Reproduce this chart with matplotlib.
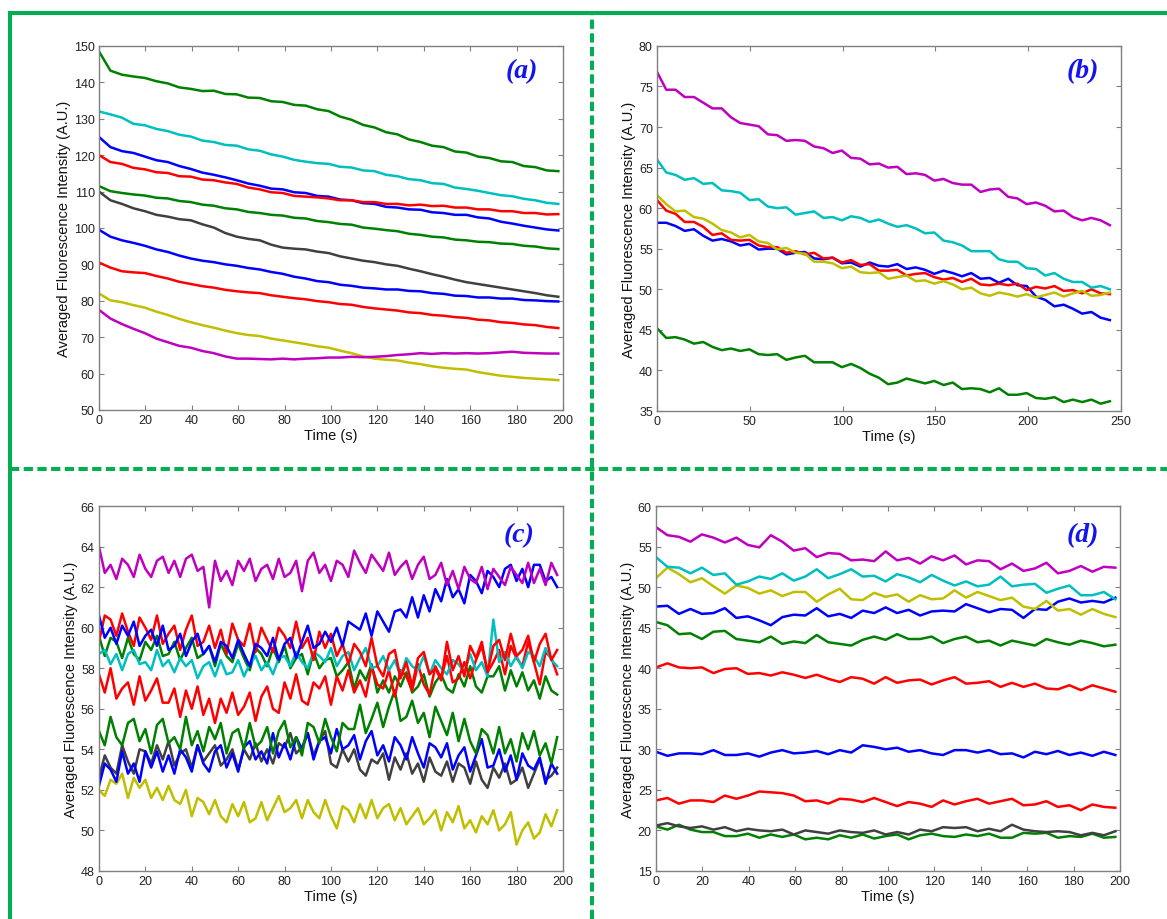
import numpy as np
import matplotlib.pyplot as plt
from matplotlib.lines import Line2D

plt.rcParams["font.family"] = ["Liberation Sans", "DejaVu Sans"]

# =========================
# Colours (MATLAB style)
# =========================
BLUE = "#0000FF"
GREEN = "#008000"
RED = "#FF0000"
CYAN = "#00BFBF"
MAGENTA = "#BF00BF"
YELLOW = "#BFBF00"
GRAY = "#404040"
FRAME = "#00B050"

# =========================
# Panel (a) - time 0..198 s, one value every ~5 s
# =========================
t_a = np.linspace(0, 198, 41)

a_green_top = [148.5, 143.2, 142.1, 141.6, 141.2, 140.3, 139.7, 138.6, 138.2, 137.6, 137.7,
               136.8, 136.7, 135.8, 135.7, 134.8, 134.6, 133.8, 133.6, 132.6, 132.1, 130.6,
               129.7, 128.3, 127.6, 126.3, 125.7, 124.3, 123.6, 122.6, 122.2, 121.0, 120.7,
               119.6, 119.2, 118.3, 118.1, 117.0, 116.7, 115.8, 115.6]
a_cyan = [132.0, 131.2, 130.3, 128.6, 128.2, 127.2, 126.6, 125.6, 125.1, 124.0, 123.6,
          122.8, 122.6, 121.6, 121.2, 120.2, 119.6, 118.7, 118.2, 117.8, 117.6, 116.8,
          116.6, 115.8, 115.6, 114.6, 114.2, 113.4, 113.1, 112.3, 112.1, 111.1, 110.7,
          110.2, 109.6, 109.0, 108.7, 108.0, 107.6, 106.9, 106.6]
a_blue_top = [125.0, 122.2, 121.1, 120.6, 119.6, 118.6, 118.1, 117.0, 116.2, 115.2, 114.6,
              113.9, 113.1, 112.2, 111.6, 110.8, 110.6, 109.8, 109.6, 108.8, 108.6, 107.8,
              107.6, 106.8, 106.6, 105.8, 105.6, 105.1, 105.0, 104.3, 104.1, 103.6, 103.6,
              102.9, 102.6, 101.7, 101.2, 100.6, 100.1, 99.6, 99.3]
a_red_top = [120.0, 118.1, 117.6, 116.5, 116.1, 115.3, 115.1, 114.2, 114.1, 113.3, 113.1,
             112.5, 112.1, 111.1, 110.6, 109.8, 109.6, 108.8, 108.6, 108.4, 108.1, 107.6,
             107.6, 107.1, 107.1, 106.6, 106.6, 106.2, 106.4, 106.0, 106.1, 105.6, 105.6,
             105.1, 105.1, 104.6, 104.6, 104.1, 104.1, 103.7, 103.8]
a_green_low = [111.5, 110.1, 109.6, 109.2, 108.9, 108.3, 108.1, 107.4, 107.1, 106.4, 106.1,
               105.4, 105.1, 104.4, 104.1, 103.6, 103.4, 102.8, 102.6, 101.9, 101.6, 101.1,
               100.9, 100.1, 99.8, 99.4, 99.1, 98.4, 98.1, 97.6, 97.4, 96.8, 96.6,
               96.2, 96.1, 95.7, 95.6, 95.1, 94.9, 94.4, 94.2]
a_gray = [110.0, 107.6, 106.6, 105.4, 104.6, 103.6, 103.1, 102.4, 102.1, 101.0, 100.1,
          98.6, 97.6, 97.0, 96.6, 95.4, 94.6, 94.3, 94.1, 93.5, 93.1, 92.2,
          91.6, 91.0, 90.6, 90.0, 89.6, 88.8, 88.1, 87.3, 86.6, 85.8, 85.1,
          84.6, 84.1, 83.6, 83.1, 82.6, 82.1, 81.5, 81.1]
a_blue_low = [99.5, 97.6, 96.6, 95.9, 95.1, 94.1, 93.4, 92.4, 91.6, 91.0, 90.6,
              90.0, 89.6, 89.0, 88.6, 87.9, 87.4, 86.6, 86.1, 85.4, 85.1, 84.4,
              84.1, 83.6, 83.4, 83.1, 83.1, 82.7, 82.6, 82.1, 81.9, 81.4, 81.3,
              80.9, 80.9, 80.6, 80.6, 80.2, 80.1, 79.9, 79.8]
a_red_low = [90.5, 89.1, 88.1, 87.8, 87.6, 86.8, 86.1, 85.2, 84.6, 84.0, 83.6,
             83.0, 82.6, 82.3, 82.1, 81.5, 81.1, 80.7, 80.4, 79.9, 79.6, 79.1,
             78.9, 78.3, 77.9, 77.6, 77.3, 76.8, 76.6, 76.1, 75.9, 75.5, 75.3,
             74.8, 74.6, 74.1, 73.9, 73.5, 73.3, 72.8, 72.5]
a_yellow = [82.0, 80.1, 79.6, 78.8, 78.1, 77.0, 76.1, 75.0, 74.1, 73.3, 72.6,
            71.8, 71.1, 70.6, 70.3, 69.6, 69.1, 68.6, 68.1, 67.5, 67.1, 66.3,
            65.6, 64.7, 64.1, 63.8, 63.6, 63.0, 62.6, 62.0, 61.6, 61.3, 61.1,
            60.4, 59.9, 59.4, 59.1, 58.8, 58.6, 58.4, 58.2]
a_magenta = [77.5, 75.1, 73.6, 72.3, 71.1, 69.6, 68.6, 67.6, 67.1, 66.2, 65.6,
             64.7, 64.1, 64.1, 64.0, 63.9, 64.1, 63.9, 64.1, 64.2, 64.4, 64.4,
             64.6, 64.5, 64.6, 64.8, 65.1, 65.3, 65.6, 65.4, 65.6, 65.5, 65.6,
             65.5, 65.6, 65.8, 66.0, 65.7, 65.6, 65.5, 65.5]

# =========================
# Panel (b) - time 0..244 s
# =========================
t_b = np.linspace(0, 244, 50)

b_magenta = [76.8, 74.6, 74.6, 73.7, 73.7, 73.0, 72.3, 72.3, 71.2, 70.5, 70.3, 70.1, 69.1,
             69.0, 68.3, 68.4, 68.3, 67.6, 67.4, 66.8, 67.1, 66.2, 66.1, 65.4, 65.5, 65.0,
             65.1, 64.2, 64.3, 64.1, 63.4, 63.6, 63.1, 62.9, 62.9, 62.0, 62.3, 62.4, 61.4,
             61.2, 60.5, 60.7, 60.3, 59.6, 59.7, 58.9, 58.5, 58.8, 58.5, 57.9]
b_cyan = [66.0, 64.4, 64.1, 63.5, 63.7, 63.0, 63.1, 62.2, 62.1, 61.9, 61.0, 61.1, 60.2,
          60.0, 60.1, 59.2, 59.4, 59.6, 58.8, 58.9, 58.5, 59.0, 58.8, 58.3, 58.6, 58.1,
          57.7, 57.9, 57.5, 56.9, 57.0, 56.0, 55.8, 55.4, 54.7, 54.7, 54.7, 53.7, 53.4,
          53.4, 52.6, 52.5, 51.7, 52.0, 51.3, 50.9, 50.9, 50.2, 50.4, 50.0]
b_blue = [58.2, 58.2, 57.8, 57.2, 57.4, 56.6, 56.0, 56.2, 55.9, 55.4, 55.6, 54.9, 55.0,
          55.0, 54.3, 54.5, 54.6, 53.8, 53.7, 53.9, 53.2, 53.3, 52.8, 53.3, 52.9, 52.8,
          53.1, 52.5, 52.7, 52.4, 51.9, 52.3, 52.0, 51.6, 52.0, 51.3, 51.4, 50.8, 51.3,
          50.5, 50.4, 49.1, 48.7, 47.9, 48.1, 47.6, 47.0, 47.2, 46.5, 46.2]
b_red = [61.0, 59.7, 59.3, 58.3, 58.3, 57.7, 56.7, 56.9, 56.1, 56.0, 56.1, 55.4, 55.2,
         55.2, 54.5, 54.7, 54.3, 54.5, 53.8, 53.9, 53.3, 53.6, 53.0, 53.1, 52.3, 52.3,
         52.4, 51.7, 51.9, 52.0, 51.5, 51.2, 51.4, 50.9, 51.3, 50.6, 50.5, 50.7, 50.5,
         50.7, 49.9, 50.3, 50.1, 50.4, 49.8, 49.9, 49.5, 50.0, 49.5, 49.4]
b_yellow = [61.6, 60.5, 59.6, 59.7, 58.9, 58.7, 58.1, 57.3, 57.0, 56.4, 56.7, 55.9, 55.7,
            54.9, 55.1, 54.5, 54.4, 53.4, 53.4, 53.2, 52.6, 52.8, 52.1, 52.0, 52.1, 51.3,
            51.5, 51.7, 51.0, 51.1, 50.7, 51.0, 50.6, 50.0, 50.2, 49.5, 49.2, 49.6, 49.4,
            49.1, 49.4, 49.0, 49.3, 49.6, 49.1, 49.5, 49.8, 49.2, 49.3, 49.6]
b_green = [45.2, 44.0, 44.1, 43.8, 43.3, 43.5, 42.9, 42.5, 42.7, 42.4, 42.6, 42.0, 41.9,
           42.0, 41.3, 41.6, 41.8, 41.0, 41.0, 41.0, 40.4, 40.8, 40.3, 39.6, 39.1, 38.3,
           38.5, 39.0, 38.7, 38.4, 38.7, 38.2, 38.5, 37.7, 37.8, 37.7, 37.3, 37.8, 37.0,
           37.0, 37.2, 36.6, 36.5, 36.7, 36.1, 36.4, 36.1, 36.4, 35.9, 36.2]

# =========================
# Panel (c) - time 0..197.5 s, one value every 2.5 s
# =========================
t_c = np.linspace(0, 197.5, 80)

c_magenta = [64.0, 62.7, 63.1, 62.4, 63.4, 63.1, 62.5, 63.6, 62.9, 62.5, 63.3, 63.5,
             62.7, 63.3, 62.5, 63.4, 63.6, 62.8, 63.0, 61.0, 63.3, 62.3, 62.8, 62.1,
             63.3, 62.8, 63.4, 62.3, 62.9, 63.1, 62.4, 63.4, 62.5, 62.7, 63.3, 61.8,
             63.3, 63.7, 62.7, 63.1, 62.3, 63.3, 63.1, 62.5, 63.8, 63.2, 62.7, 63.6,
             63.2, 62.8, 63.7, 62.6, 63.0, 63.3, 62.4, 63.1, 63.5, 62.4, 62.6, 63.2,
             62.1, 62.8, 61.9, 63.0, 62.4, 62.2, 63.0, 61.9, 62.9, 62.5, 62.1, 63.0,
             62.6, 62.2, 63.2, 62.2, 62.9, 62.1, 63.2, 62.6]
c_blue_top = [60.6, 59.5, 60.0, 59.2, 60.1, 59.6, 60.3, 59.1, 59.6, 59.9, 59.1, 60.1,
              58.9, 59.1, 59.7, 58.6, 59.3, 59.7, 58.7, 59.1, 58.3, 59.3, 59.1, 58.5,
              59.4, 58.7, 58.1, 59.2, 59.0, 58.6, 59.5, 58.4, 59.2, 59.5, 58.5, 59.3,
              60.1, 59.0, 59.2, 59.8, 59.3, 60.0, 59.1, 60.3, 60.1, 59.9, 60.7, 59.6,
              60.8, 60.3, 59.8, 60.8, 60.9, 60.5, 61.5, 60.5, 61.6, 60.8, 61.9, 61.3,
              62.4, 61.5, 61.9, 61.2, 62.6, 62.3, 61.7, 62.8, 62.5, 62.0, 62.9, 63.1,
              62.3, 62.9, 62.0, 63.1, 63.1, 62.3, 62.5, 62.0]
c_red_top = [59.3, 60.6, 60.4, 59.6, 60.7, 59.8, 59.1, 60.5, 60.0, 59.4, 60.6, 59.2,
             59.7, 60.1, 58.9, 59.9, 60.6, 59.1, 59.3, 60.1, 59.0, 59.9, 58.7, 60.2,
             59.4, 59.1, 60.2, 58.8, 60.0, 59.4, 58.8, 60.0, 59.6, 59.0, 60.3, 59.0,
             59.5, 58.4, 59.8, 59.0, 59.7, 58.6, 59.2, 58.2, 59.2, 58.8, 58.1, 59.5,
             58.1, 57.6, 58.7, 58.9, 57.5, 58.3, 57.1, 58.5, 58.8, 57.7, 58.0, 57.4,
             59.3, 57.9, 58.6, 57.6, 59.1, 58.5, 59.3, 57.8, 59.1, 59.4, 58.4, 59.7,
             58.6, 58.9, 59.6, 58.3, 59.2, 59.7, 58.4, 58.9]
c_red_low = [57.7, 56.8, 58.0, 56.5, 57.0, 57.3, 56.2, 57.6, 56.4, 56.9, 57.5, 56.3,
             56.3, 57.0, 55.6, 56.9, 56.0, 57.1, 55.7, 56.5, 55.3, 56.5, 55.8, 56.8,
             55.7, 56.1, 56.8, 55.4, 56.6, 57.1, 56.0, 55.8, 57.3, 56.5, 57.7, 56.4,
             56.2, 57.3, 57.0, 57.6, 56.2, 57.6, 56.9, 57.9, 56.8, 57.4, 56.6, 58.1,
             57.2, 57.0, 57.9, 56.6, 57.9, 57.6, 56.9, 58.2, 57.2, 56.7, 58.1, 57.5,
             58.6, 57.3, 57.5, 58.3, 57.5, 58.4, 59.1, 57.8, 58.3, 58.9, 57.7, 59.1,
             58.5, 58.1, 59.3, 58.3, 57.2, 58.8, 58.5, 57.7]
c_cyan = [58.7, 58.9, 58.2, 58.7, 57.9, 58.7, 58.9, 58.2, 58.3, 57.9, 58.9, 58.1,
          58.4, 57.8, 58.5, 58.1, 58.4, 57.5, 58.1, 58.3, 57.6, 58.4, 57.7, 57.8,
          58.4, 57.6, 58.2, 58.6, 57.9, 58.3, 57.7, 58.5, 58.6, 58.1, 58.8, 58.3,
          58.0, 58.8, 58.6, 58.3, 59.0, 58.1, 58.6, 58.8, 57.9, 58.5, 59.0, 58.0,
          58.1, 58.6, 57.9, 58.4, 57.6, 58.5, 58.1, 57.9, 58.6, 57.7, 58.4, 58.0,
          57.7, 58.4, 58.2, 57.8, 58.7, 57.9, 58.3, 57.6, 60.4, 58.3, 58.8, 58.1,
          58.6, 58.0, 58.8, 58.6, 58.1, 59.0, 58.4, 58.1]
c_green_top = [59.6, 58.6, 59.5, 59.3, 58.5, 59.5, 58.7, 58.4, 59.3, 58.9, 59.6, 58.6,
               58.7, 59.3, 58.4, 59.0, 59.5, 58.5, 58.7, 59.1, 58.1, 59.2, 58.6, 58.3,
               59.2, 58.5, 57.9, 59.0, 58.7, 58.1, 59.0, 58.3, 59.1, 58.0, 58.5, 58.7,
               57.7, 58.8, 58.0, 58.4, 58.5, 57.6, 57.9, 58.3, 57.0, 57.9, 57.4, 58.2,
               56.8, 57.4, 56.8, 57.6, 57.1, 57.8, 56.8, 57.1, 57.7, 56.6, 57.3, 57.7,
               57.0, 56.8, 57.7, 57.1, 58.1, 57.1, 56.8, 57.6, 57.6, 58.1, 56.9, 57.9,
               57.1, 57.8, 56.9, 57.4, 56.5, 57.6, 56.9, 56.7]
c_green_low = [54.9, 54.2, 55.6, 54.6, 54.2, 55.3, 55.5, 54.4, 55.0, 53.8, 55.2, 55.5,
               54.3, 54.6, 54.0, 55.6, 54.2, 54.9, 53.9, 55.1, 54.5, 55.3, 53.8, 54.8,
               55.0, 54.0, 55.3, 54.1, 54.4, 55.1, 53.8, 54.9, 55.4, 54.1, 54.6, 53.7,
               55.3, 55.1, 54.3, 55.5, 54.6, 53.9, 55.3, 55.0, 55.0, 56.2, 54.8, 55.5,
               56.3, 55.1, 56.1, 56.9, 55.4, 55.6, 56.4, 55.3, 55.8, 54.6, 56.1, 55.4,
               54.7, 55.8, 54.4, 55.5, 54.4, 53.8, 55.0, 54.7, 53.8, 55.1, 53.8, 54.5,
               53.4, 54.8, 54.0, 54.9, 53.7, 54.3, 53.3, 54.6]
c_gray = [52.6, 53.7, 53.1, 52.8, 54.2, 53.4, 52.8, 54.0, 53.9, 53.3, 54.2, 53.5,
          54.4, 53.2, 53.8, 54.0, 53.1, 54.2, 53.4, 53.8, 54.2, 53.2, 53.5, 54.0,
          53.0, 54.0, 53.5, 54.3, 53.4, 54.0, 53.3, 54.3, 54.1, 54.8, 53.8, 54.1,
          54.8, 53.7, 54.4, 54.9, 53.3, 53.1, 54.0, 53.4, 54.0, 53.0, 52.7, 53.5,
          53.3, 53.8, 52.5, 53.6, 53.0, 53.8, 52.8, 53.3, 52.4, 53.6, 52.9, 52.7,
          53.4, 52.4, 53.3, 53.1, 52.3, 53.4, 52.5, 52.1, 53.1, 52.6, 53.3, 52.3,
          52.5, 53.1, 52.1, 52.8, 53.5, 52.5, 52.7, 53.1]
c_blue_low = [52.2, 53.3, 53.0, 52.4, 53.9, 52.8, 53.3, 52.4, 53.9, 53.1, 53.9, 52.9,
              53.7, 52.8, 54.0, 53.6, 52.9, 54.2, 53.3, 52.9, 53.9, 54.2, 53.1, 53.8,
              52.9, 54.1, 54.4, 53.5, 53.9, 53.3, 54.8, 53.6, 54.3, 53.5, 54.6, 54.0,
              54.8, 53.5, 54.4, 54.6, 53.8, 55.0, 54.0, 54.2, 54.7, 53.5, 54.4, 54.9,
              53.7, 54.2, 53.4, 54.6, 54.2, 53.5, 54.6, 53.8, 53.1, 54.3, 54.1, 53.6,
              54.3, 53.0, 53.7, 54.1, 52.9, 53.7, 54.5, 53.1, 53.2, 54.0, 52.9, 53.7,
              52.5, 53.8, 53.2, 53.0, 53.6, 52.3, 53.3, 52.8]
c_yellow = [52.0, 51.7, 52.5, 52.3, 52.8, 51.6, 52.6, 52.1, 52.5, 51.6, 52.1, 51.5,
            52.2, 51.5, 51.3, 52.0, 50.7, 51.6, 51.4, 50.8, 51.5, 50.7, 50.4, 51.3,
            50.7, 51.4, 50.4, 50.6, 51.4, 50.5, 51.1, 51.7, 50.9, 51.1, 51.5, 50.6,
            51.5, 50.9, 50.6, 51.5, 50.7, 50.1, 51.2, 51.0, 50.4, 51.3, 50.6, 51.5,
            50.6, 51.1, 51.3, 50.5, 51.1, 50.3, 50.7, 51.1, 50.3, 50.6, 51.0, 50.0,
            50.9, 50.4, 51.2, 50.1, 50.5, 49.9, 50.7, 50.3, 51.0, 50.0, 50.3, 50.9,
            49.3, 50.0, 50.4, 49.6, 49.9, 50.8, 50.2, 51.0]

# =========================
# Panel (d) - time 0..198 s
# =========================
t_d = np.linspace(0, 198, 41)

d_magenta = [57.4, 56.4, 56.2, 55.6, 56.5, 56.1, 55.5, 56.1, 55.2, 54.9, 56.4,
             55.6, 54.5, 54.8, 53.7, 54.2, 54.1, 53.3, 53.4, 53.2, 54.4, 53.3,
             53.6, 52.9, 53.8, 53.3, 53.9, 52.8, 53.3, 53.2, 52.2, 52.9, 52.0,
             52.3, 53.0, 51.7, 52.0, 52.6, 51.9, 52.5, 52.4]
d_cyan = [53.7, 52.5, 52.4, 51.7, 52.4, 51.5, 51.7, 50.3, 50.7, 51.3, 51.0,
          51.7, 50.8, 51.3, 52.2, 51.1, 51.6, 52.2, 51.3, 51.4, 50.7, 51.6,
          51.2, 50.6, 51.5, 50.8, 50.2, 50.7, 50.1, 50.3, 51.3, 50.1, 50.3,
          50.4, 49.3, 49.8, 50.2, 49.0, 49.0, 49.4, 48.5]
d_yellow = [51.1, 52.4, 51.6, 50.6, 51.1, 50.1, 49.2, 50.2, 49.9, 49.2, 49.6,
            48.9, 49.4, 49.4, 48.2, 49.1, 49.8, 48.5, 48.4, 49.3, 48.8, 49.1,
            48.2, 49.0, 48.5, 48.6, 49.6, 48.7, 49.4, 48.9, 48.4, 48.7, 47.6,
            47.3, 48.3, 47.1, 47.3, 46.6, 47.3, 46.7, 46.3]
d_blue_top = [47.6, 47.7, 46.7, 47.3, 46.7, 46.8, 47.4, 46.2, 46.4, 45.9, 45.3,
              46.3, 46.6, 46.5, 47.4, 46.4, 46.7, 46.2, 47.1, 46.8, 47.5, 46.8,
              47.2, 46.5, 47.0, 47.1, 47.0, 47.9, 47.4, 46.9, 47.3, 47.2, 46.2,
              47.3, 47.2, 48.2, 48.6, 48.1, 48.3, 48.1, 48.7]
d_green_top = [45.7, 45.3, 44.2, 44.3, 43.6, 44.5, 44.6, 43.6, 43.4, 43.2, 43.9,
               43.0, 43.3, 43.1, 44.1, 43.2, 43.0, 42.8, 43.5, 43.9, 43.5, 44.2,
               43.6, 43.6, 43.9, 43.1, 43.6, 43.9, 43.2, 43.4, 42.8, 43.4, 43.1,
               42.8, 43.6, 43.2, 42.9, 43.4, 43.1, 42.7, 42.9]
d_red_top = [40.1, 40.6, 40.1, 40.0, 40.1, 39.4, 39.9, 40.0, 39.3, 39.4, 39.1,
             39.5, 39.2, 38.8, 39.2, 38.7, 38.3, 38.9, 38.7, 38.1, 38.9, 38.2,
             38.5, 38.6, 38.0, 38.5, 38.9, 38.1, 38.2, 38.4, 37.7, 38.2, 37.7,
             38.1, 37.5, 37.4, 37.9, 37.3, 37.9, 37.5, 37.1]
d_blue_low = [29.7, 29.2, 29.5, 29.5, 29.4, 29.9, 29.3, 29.3, 29.5, 29.1, 29.6,
              29.9, 29.5, 29.6, 29.8, 29.4, 29.9, 29.6, 30.5, 30.3, 30.0, 30.2,
              29.7, 29.9, 29.5, 29.3, 29.9, 29.9, 29.6, 29.9, 29.4, 29.5, 29.0,
              29.7, 29.4, 29.8, 29.3, 29.6, 29.2, 29.7, 29.3]
d_red_low = [23.7, 24.0, 23.3, 23.7, 23.7, 23.5, 24.3, 23.9, 24.3, 24.8, 24.7,
             24.6, 24.3, 23.6, 23.7, 23.3, 23.9, 23.8, 23.5, 24.0, 23.5, 23.0,
             23.5, 23.3, 22.9, 23.7, 23.2, 23.6, 23.9, 23.3, 23.6, 23.9, 23.1,
             23.2, 23.6, 22.9, 23.1, 22.5, 23.2, 22.9, 22.8]
d_gray = [20.6, 20.9, 20.5, 20.3, 20.5, 20.1, 20.4, 19.9, 20.2, 20.0, 19.9,
          20.1, 19.5, 20.0, 19.8, 19.6, 20.0, 19.8, 19.7, 20.0, 19.5, 19.8,
          19.5, 20.1, 19.9, 20.4, 20.3, 20.4, 19.9, 20.2, 19.9, 20.7, 20.1,
          19.9, 19.8, 19.9, 19.8, 19.4, 19.7, 19.4, 19.9]
d_green_low = [20.5, 20.1, 20.7, 20.1, 19.8, 19.8, 19.3, 19.3, 19.6, 19.1, 19.5,
               19.2, 19.5, 18.9, 19.1, 18.9, 19.4, 19.1, 19.5, 19.0, 19.3, 19.5,
               18.9, 19.4, 19.6, 19.3, 19.2, 19.5, 19.3, 19.6, 19.1, 19.1, 19.7,
               19.6, 19.7, 19.1, 19.3, 19.2, 19.6, 19.1, 19.2]

# =========================
# Figure + panels
# =========================
fig = plt.figure(figsize=(11.67, 9.2), dpi=100)

ax_a = fig.add_axes([0.0848, 0.5533, 0.3976, 0.3957])
ax_b = fig.add_axes([0.5630, 0.5522, 0.3976, 0.3968])
ax_c = fig.add_axes([0.0848, 0.0522, 0.3976, 0.3967])
ax_d = fig.add_axes([0.5621, 0.0522, 0.3976, 0.3967])

LW = 1.8

panels = [
    (ax_a, t_a, [(a_green_top, GREEN), (a_cyan, CYAN), (a_blue_top, BLUE), (a_red_top, RED),
                 (a_green_low, GREEN), (a_gray, GRAY), (a_blue_low, BLUE), (a_red_low, RED),
                 (a_yellow, YELLOW), (a_magenta, MAGENTA)]),
    (ax_b, t_b, [(b_green, GREEN), (b_blue, BLUE), (b_red, RED), (b_yellow, YELLOW),
                 (b_cyan, CYAN), (b_magenta, MAGENTA)]),
    (ax_c, t_c, [(c_yellow, YELLOW), (c_gray, GRAY), (c_blue_low, BLUE), (c_green_low, GREEN),
                 (c_green_top, GREEN), (c_red_low, RED), (c_cyan, CYAN), (c_red_top, RED),
                 (c_blue_top, BLUE), (c_magenta, MAGENTA)]),
    (ax_d, t_d, [(d_green_low, GREEN), (d_gray, GRAY), (d_red_low, RED), (d_blue_low, BLUE),
                 (d_red_top, RED), (d_green_top, GREEN), (d_blue_top, BLUE), (d_yellow, YELLOW),
                 (d_cyan, CYAN), (d_magenta, MAGENTA)]),
]

for ax, t, series in panels:
    for vals, col in series:
        ax.plot(t, vals, color=col, lw=LW)

ax_a.set_xlim(0, 200); ax_a.set_ylim(50, 150)
ax_a.set_xticks(range(0, 201, 20)); ax_a.set_yticks(range(50, 151, 10))
ax_b.set_xlim(0, 250); ax_b.set_ylim(35, 80)
ax_b.set_xticks(range(0, 251, 50)); ax_b.set_yticks(range(35, 81, 5))
ax_c.set_xlim(0, 200); ax_c.set_ylim(48, 66)
ax_c.set_xticks(range(0, 201, 20)); ax_c.set_yticks(range(48, 67, 2))
ax_d.set_xlim(0, 200); ax_d.set_ylim(15, 60)
ax_d.set_xticks(range(0, 201, 20)); ax_d.set_yticks(range(15, 61, 5))

labels = ["(a)", "(b)", "(c)", "(d)"]
label_pos = [(0.911, 0.931), (0.918, 0.931), (0.905, 0.923), (0.92, 0.923)]

for (ax, _, _), lab, pos in zip(panels, labels, label_pos):
    for sp in ax.spines.values():
        sp.set_color("#808080")
        sp.set_linewidth(1.0)
    ax.tick_params(direction="in", top=True, right=True, length=3.5, width=0.8,
                   color="#808080", labelcolor="#222222", labelsize=9, pad=3)
    ax.set_xlabel("Time (s)", fontsize=10.5, color="#111111", labelpad=1)
    ax.set_ylabel("Averaged Fluorescence Intensity (A.U.)", fontsize=10.5,
                  color="#111111", labelpad=2)
    ax.text(pos[0], pos[1], lab, transform=ax.transAxes, ha="center", va="center",
            fontsize=20, color="#1414F0", fontweight="bold", fontstyle="italic",
            family=["Liberation Serif", "DejaVu Serif"])

# =========================
# Green frame around panels
# =========================
lw_frame = 2.9
x_left, y_top = 10 / 1167, 1 - 14 / 920
x_mid, y_mid = 592 / 1167, 1 - 470 / 920

fig.add_artist(Line2D([x_left, 1.0], [y_top, y_top], transform=fig.transFigure,
                      color=FRAME, lw=lw_frame, solid_capstyle="projecting"))
fig.add_artist(Line2D([x_left, x_left], [0.0, y_top], transform=fig.transFigure,
                      color=FRAME, lw=lw_frame, solid_capstyle="projecting"))
fig.add_artist(Line2D([x_mid, x_mid], [0.0, y_top], transform=fig.transFigure,
                      color=FRAME, lw=lw_frame, linestyle=(0, (2.3, 1.1))))
fig.add_artist(Line2D([x_left, 1.0], [y_mid, y_mid], transform=fig.transFigure,
                      color=FRAME, lw=lw_frame, linestyle=(0, (2.3, 1.1))))

fig.savefig("out.png", dpi=100)
